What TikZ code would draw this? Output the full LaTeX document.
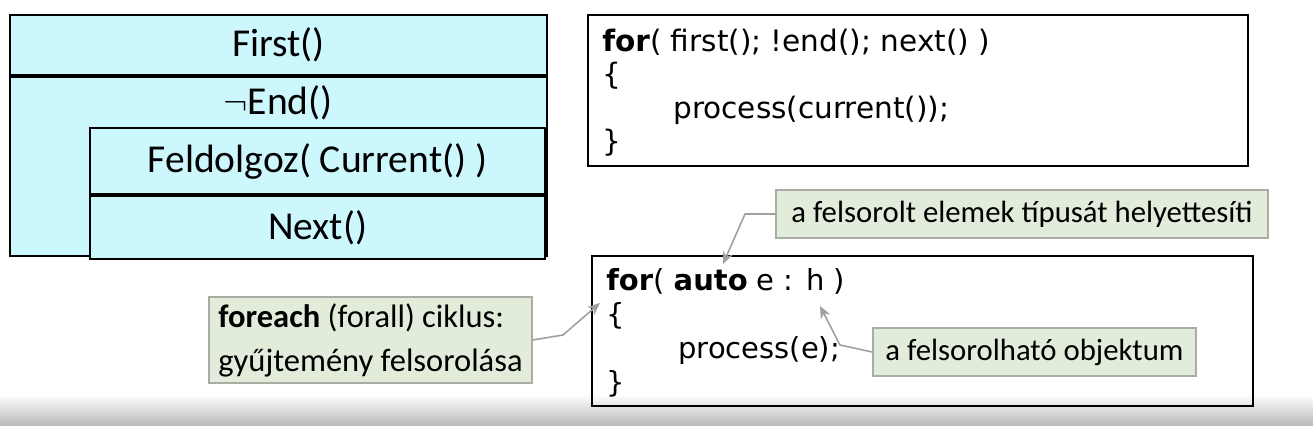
\documentclass[tikz,border=0pt]{standalone}
\usepackage{fontspec}
\setmainfont{Carlito}
\newfontfamily\codefont{DejaVu Sans}
\usetikzlibrary{positioning}
\usetikzlibrary{arrows.meta}
\usepackage{xcolor}
\definecolor{stcyan}{HTML}{CCF7FD}
\definecolor{notegreen}{HTML}{E2ECDA}
\definecolor{noteedge}{HTML}{A9ADA6}
\definecolor{pointer}{HTML}{A0A0A0}

\tikzset{
  stbox/.style={draw, line width=1.1pt, fill=stcyan, inner sep=0pt},
  sttext/.style={font=\fontsize{22.5}{26}\selectfont},
  codebox/.style={draw, line width=1.1pt, inner sep=0pt},
  codetext/.style={align=left, anchor=north west, inner sep=0pt},
  note/.style={draw=noteedge, line width=0.9pt, fill=notegreen,
    font=\fontsize{17.5}{21}\selectfont},
  pointer/.style={draw=pointer, line width=0.9pt, -{Stealth[length=7pt,width=6pt]}}
}

\begin{document}
\begin{tikzpicture}
    \useasboundingbox (0,0) rectangle (26.26,-8.52);
    \fill[white] (0,0) rectangle (26.26,-8.52);
    \shade[top color=white, bottom color=gray!55] (0,-7.88) rectangle (26.26,-8.52);

    % Struktogram
    \node[stbox, minimum width=10.74cm, minimum height=1.2cm, anchor=north west] (first) at (0.18,-0.28) {};
    \node[sttext] at (first.center) {First()};
    \node[stbox, minimum width=10.74cm, minimum height=3.58cm, anchor=north west] (loop) at (first.south west) {};
    \node[sttext] (cond) at (5.56,-2.06) {$\neg$End()};
    \node[stbox, minimum width=9.1cm, minimum height=1.32cm, anchor=north east] (body) at (10.92,-2.54) {};
    \node[sttext] at (body.center) {Feldolgoz( Current() )};
    \node[stbox, minimum width=9.1cm, minimum height=1.26cm, anchor=north] (next) at (body.south) {};
    \node[sttext] at (next.center) {Next()};

    % Hagyomanyos ciklus
    \node[codebox, minimum width=13.2cm, minimum height=3.02cm, anchor=north west] (oldfor) at (11.74,-0.28) {};
    \node[codetext, font=\codefont\fontsize{16.8}{18.9}\selectfont] (oldcode) at (12.04,-0.58) {\textbf{for}( first(); !end(); next() )\\
      \{\\
      \hspace*{1.42cm}process(current());\\
      \}};

    % Range-based ciklus
    \node[codebox, minimum width=13.22cm, minimum height=3.0cm, anchor=north west] (newfor) at (11.82,-5.10) {};
    \node[codetext, font=\codefont\fontsize{16.5}{19.4}\selectfont] (newcode) at (12.12,-5.36) {\textbf{for}( \textbf{auto} e : h )\\
      \{\\
      \hspace*{1.44cm}process(e);\\
      \}};

    % Megjegyzesek
    \node[note, minimum width=9.84cm, minimum height=0.96cm] (elemtype) at (20.44,-4.28) {a felsorolt elemek típusát helyettesíti};
    \node[note, minimum width=6.46cm, minimum height=1.72cm, align=left,
      font=\fontsize{18.5}{25}\selectfont] (foreach) at (7.41,-6.8) {\textbf{foreach} (forall) ciklus:\\gyűjtemény felsorolása};
    \node[note, minimum width=6.46cm, minimum height=0.96cm] (iterable) at (20.69,-7.04) {a felsorolható objektum};

    \coordinate (autotip) at (14.46,-5.28);
    \coordinate (fortip) at (12.0,-6.06);
    \coordinate (htip) at (16.4,-6.12);

    \draw[pointer] (elemtype.west) -- (14.9,-4.28) -- (autotip);
    \draw[pointer] (foreach.east) -- (11.26,-6.7) -- (fortip);
    \draw[pointer] (iterable.west) -- (16.8,-6.9) -- (htip);
\end{tikzpicture}
\end{document}
